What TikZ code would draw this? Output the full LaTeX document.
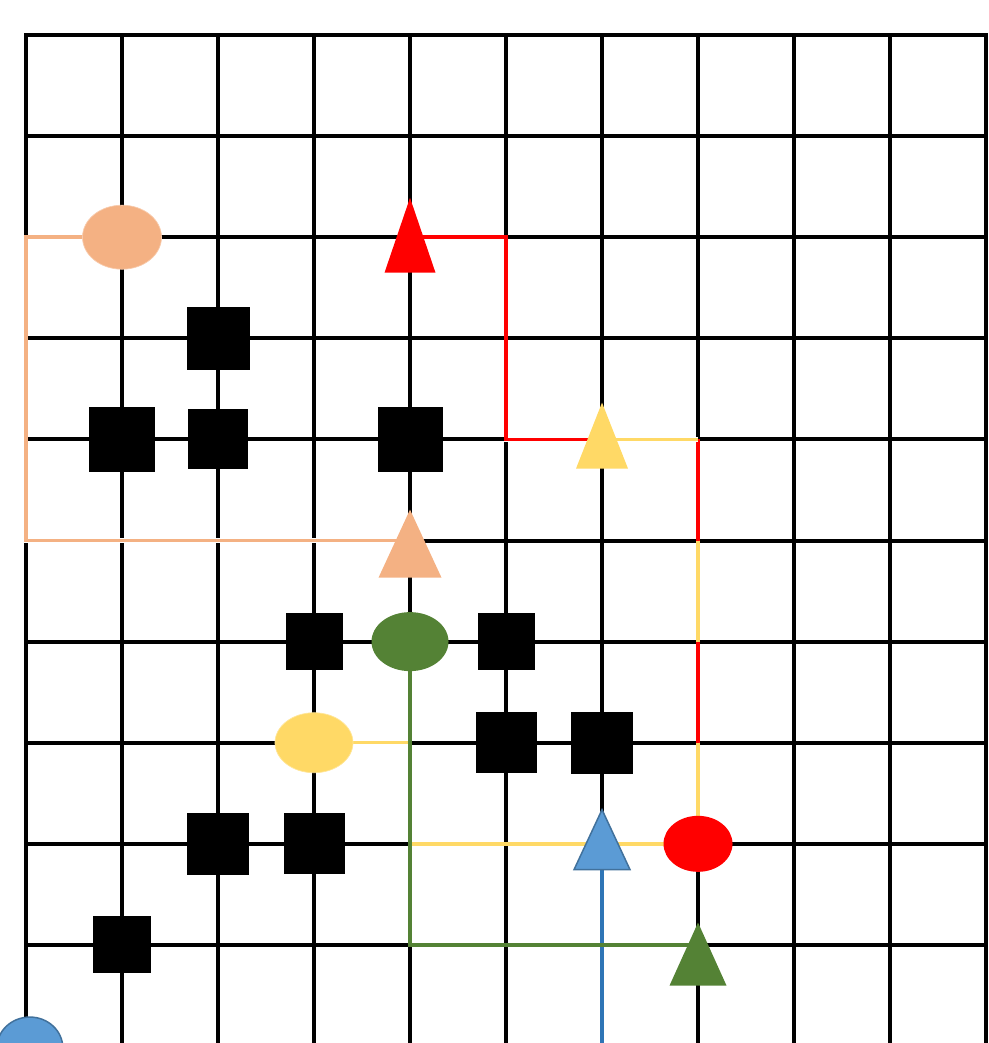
\documentclass[tikz,border=0pt]{standalone}
\usetikzlibrary{shapes.geometric}
\definecolor{peach}{HTML}{F4B183}
\definecolor{peachedge}{HTML}{F8CBAD}
\definecolor{sun}{HTML}{FFD966}
\definecolor{sunedge}{HTML}{FFE699}
\definecolor{leaf}{HTML}{548235}
\definecolor{sky}{HTML}{5B9BD5}
\definecolor{skyedge}{HTML}{41719C}
\definecolor{skyline}{HTML}{2E75B6}
\pgfdeclarelayer{bg}
\pgfsetlayers{bg,main}
\begin{document}
\begin{tikzpicture}[x=1.92cm, y=-2.022cm,
    blk/.style={fill=black, inner sep=0pt, minimum width=#1, minimum height=#1},
    blk/.default=1.24cm,
    oval/.style={ellipse, inner sep=0pt},
    tri/.style={isosceles triangle, isosceles triangle stretches, shape border rotate=90, inner sep=0pt},
    conn/.style={line width=0.07cm, preaction={draw=white, line width=0.084cm}},
    gridline/.style={line width=0.08cm, line cap=rect}]
  % 0. picture frame
  \useasboundingbox (-0.2708,-0.3462) rectangle (10.0208,9.970);

  % 1. black blocks
  \node[blk=1.26cm] (b23) at (2,3) {};
  \node[blk=1.3cm]  (b14) at (1,4) {};
  \node[blk=1.2cm]  (b24) at (2,4) {};
  \node[blk=1.3cm]  (b44) at (4,4) {};
  \node[blk=1.14cm] (b36) at (3,6) {};
  \node[blk=1.14cm] (b56) at (5,6) {};
  \node[blk=1.22cm] (b57) at (5,7) {};
  \node[blk]        (b67) at (6,7) {};
  \node[blk]        (b28) at (2,8) {};
  \node[blk=1.22cm] (b38) at (3,8) {};
  \node[blk=1.14cm] (b19) at (1,9) {};

  % 2. start ellipses
  \node[oval, fill=peach, draw=peachedge, minimum width=1.58cm, minimum height=1.28cm] (oE) at (1,2) {};
  \node[oval, fill=leaf, minimum width=1.54cm, minimum height=1.18cm] (gE) at (4,6) {};
  \node[oval, fill=sun, draw=sunedge, minimum width=1.56cm, minimum height=1.2cm] (yE) at (3,7) {};
  \node[oval, fill=red, minimum width=1.38cm, minimum height=1.12cm] (rE) at (7,8) {};
  \node[oval, fill=sky, draw=skyedge, line width=0.03cm, minimum width=1.32cm, minimum height=1.24cm] (bE) at (0.04,10.02) {};

  % 3. goal triangles (shifted so that their boxes sit on the crossings)
  \node[tri, fill=red, minimum width=1.02cm, minimum height=1.5cm, yshift=-0.345cm] (rT) at (4,2) {};
  \node[tri, fill=sun, minimum width=1.04cm, minimum height=1.32cm, yshift=-0.23cm] (yT) at (6,4) {};
  \node[tri, fill=peach, minimum width=1.26cm, minimum height=1.36cm, yshift=-0.34cm] (oT) at (4,5) {};
  \node[tri, fill=sky, draw=skyedge, line width=0.03cm, minimum width=1.12cm, minimum height=1.2cm, yshift=-0.16cm] (bT) at (6,8) {};
  \node[tri, fill=leaf, minimum width=1.14cm, minimum height=1.26cm, yshift=-0.445cm] (gT) at (7,9) {};

  % 4. corners of the routes
  \coordinate (k02) at (0,2);
  \coordinate (k05) at (0,5);
  \coordinate (k52) at (5,2);
  \coordinate (k54) at (5,4);
  \coordinate (k74) at (7,4);
  \coordinate (k75) at (7,5);
  \coordinate (k76) at (7,6);
  \coordinate (k77) at (7,7);
  \coordinate (k47) at (4,7);
  \coordinate (k48) at (4,8);
  \coordinate (k49) at (4,9);
  \coordinate (k6b) at (6,10.2);

  \begin{pgfonlayer}{bg}
    % 5. grid
    \foreach \i in {0,...,10}
      \draw[gridline] (\i,0) -- (\i,10.2);
    \foreach \j in {0,...,10}
      \draw[gridline] (0,\j) -- (10,\j);
    % 6. routes (over the grid, under the shapes)
    \draw[conn, peach] (oE.center) -- (k02) -- (k05) -- (oT |- k05);
    \draw[conn, red] (rT |- k52) -- (k52) -- (k54) -- (yT |- k54);
    \draw[conn, red] (k74) -- (k75);
    \draw[conn, red] (k76) -- (k77);
    \draw[conn, sun] (yT |- k74) -- (k74);
    \draw[conn, sun] (k75) -- (k76);
    \draw[conn, sun] (k77) -- (rE.center);
    \draw[conn, sun] (yE.center) -- (k47);
    \draw[conn, sun] (k48) -- (bT |- k48) -- (rE.center);
    \draw[conn, skyline] (k6b) -- (bT |- k48);
    \draw[conn, leaf] (gE.center) -- (k49) -- (gT |- k49);
  \end{pgfonlayer}
\end{tikzpicture}
\end{document}
